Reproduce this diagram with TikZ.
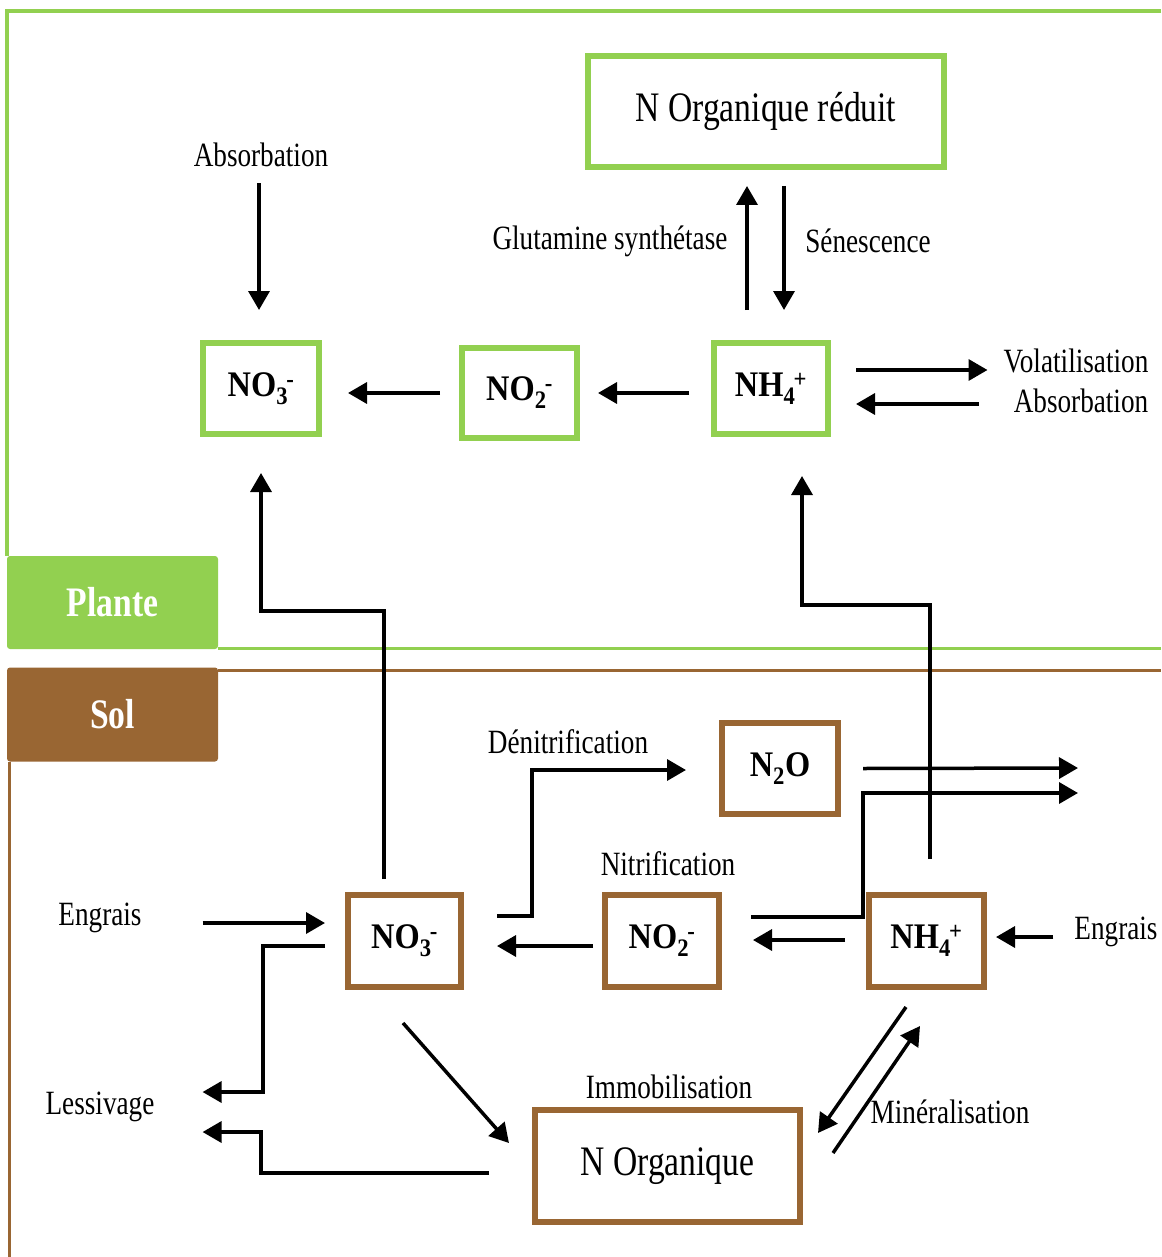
\documentclass[tikz,border=0pt]{standalone}
\usepackage{fontspec}
\setmainfont[FakeStretch=0.8]{Liberation Serif}
\newfontfamily\boxfont[FakeStretch=0.9]{Liberation Serif}
\usetikzlibrary{arrows.meta,calc}
\definecolor{vert}{HTML}{92D050}
\definecolor{brun}{HTML}{996633}
\newcommand\ionx[2]{\textsubscript{#1}\kern-0.05em\textsuperscript{#2}}
\tikzset{
  arr/.style={line width=3.5pt,-{Triangle[length=19pt,width=21pt]}},
  gbox/.style={draw=vert,line width=6pt,fill=white,inner sep=0pt,font=\fontsize{36}{40}\boxfont\bfseries},
  bbox/.style={draw=brun,line width=6pt,fill=white,inner sep=0pt,font=\fontsize{36}{40}\boxfont\bfseries},
  lab/.style={inner sep=0pt,font=\fontsize{34}{40}\selectfont},
  tag/.style={rounded corners=3pt,inner sep=0pt,text=white,font=\fontsize{42}{46}\selectfont\bfseries},
}
\begin{document}
\begin{tikzpicture}[x=1pt,y=-1pt]
\useasboundingbox (0,0) rectangle (1161,1257);
% frames
\draw[vert,line width=4pt] (1161,11) -- (7,11) -- (7,556);
\draw[vert,line width=3pt] (218,648) -- (1161,648);
\draw[brun,line width=3pt] (218,670) -- (1161,670);
\draw[brun,line width=3pt] (9,762) -- (9,1257);
\node[tag,fill=vert,minimum width=211,minimum height=93] (plante) at (112.5,602.5) {Plante};
\node[tag,fill=brun,minimum width=211,minimum height=94] (sol) at (112.5,714.5) {Sol};
% plant boxes
\node[gbox,minimum width=356,minimum height=111,font=\fontsize{42}{46}\selectfont] (norgr) at (766,111.5) {N Organique réduit};
\node[gbox,minimum width=116,minimum height=91] (n3t) at (261,388.5) {NO\ionx{3}{-}};
\node[gbox,minimum width=115,minimum height=90] (n2t) at (519.5,393) {NO\ionx{2}{-}};
\node[gbox,minimum width=114,minimum height=91] (n4t) at (771,388.5) {NH\ionx{4}{+}};
% soil boxes
\node[bbox,minimum width=116,minimum height=91] (n2o) at (780,768.5) {N\textsubscript{2}O};
\node[bbox,minimum width=113,minimum height=92] (n3b) at (404.5,941) {NO\ionx{3}{-}};
\node[bbox,minimum width=114,minimum height=92] (n2b) at (662,941) {NO\ionx{2}{-}};
\node[bbox,minimum width=115,minimum height=92] (n4b) at (926.5,941) {NH\ionx{4}{+}};
\node[bbox,minimum width=265,minimum height=112,font=\fontsize{42}{46}\selectfont] (norg) at (667.5,1166) {N Organique};
% labels
\node[lab] (abs1) at (261,155) {Absorbation};
\node[lab] (glu) at (610,241) {Glutamine synthétase};
\node[lab] (sen) at (868,241) {Sénescence};
\node[lab] (vol) at (1076,361) {Volatilisation};
\node[lab] (abs2) at (1081,401) {Absorbation};
\node[lab] (den) at (568,742) {Dénitrification};
\node[lab] (nit) at (668,864) {Nitrification};
\node[lab] (eng1) at (100,918) {Engrais};
\node[lab] (eng2) at (1116,932) {Engrais};
\node[lab] (less) at (100,1107) {Lessivage};
\node[lab] (imm) at (669,1087) {Immobilisation};
\node[lab] (min) at (950,1112) {Minéralisation};
\coordinate (out1) at (1078,768);
\coordinate (out2) at (1078,793);
% plant connectors
\draw[arr] ($(abs1.south)+(-2,16)$) -- ($(n3t.north)+(-2,-30)$);
\draw[arr] ($(n2t.west)+(-19,0)$) -- ($(n3t.east)+(26,4.5)$);
\draw[arr] ($(n4t.west)+(-22,4.5)$) -- ($(n2t.east)+(18,0)$);
\draw[arr] ($(n4t.north)+(-24,-30)$) -- ($(norgr.south)+(-19,16)$);
\draw[arr] ($(norgr.south)+(18,16)$) -- ($(n4t.north)+(13,-30)$);
\draw[arr] ($(n4t.east)+(25,-18.5)$) -- ($(vol.west)+(-16,9)$);
\draw[arr] ($(abs2.west)+(-35,3)$) -- ($(n4t.east)+(25,15.5)$);
% soil to plant
\draw[arr] ($(n3b.north)+(-20.5,-13)$) -- ++(0,-268) -| ($(n3t.south)+(0,36)$);
\draw[arr] ($(n4b.north)+(3.5,-33)$) -- ++(0,-254) -| ($(n4t.south)+(31,39)$);
% soil connectors
\draw[arr] ($(n3b.east)+(33,-25)$) -- ++(35,0) |- ($(n2o.west)+(-33,1.5)$);
\draw[arr] ($(n2o.east)+(22,0)$) -- (out1);
\draw[arr] ($(n2b.east)+(29,-24)$) -- ++(112,0) |- (out2);
\draw[arr] ($(n4b.west)+(-21,-1)$) -- ($(n2b.east)+(31,-1)$);
\draw[arr] ($(n2b.west)+(-9,5)$) -- ($(n3b.east)+(33,5)$);
\draw[arr] ($(eng1.east)+(61,5)$) -- ($(n3b.west)+(-20,-18)$);
\draw[arr] ($(eng2.west)+(-21,5)$) -- ($(n4b.east)+(9,-4)$);
\draw[arr] ($(n3b.west)+(-20,5)$) -- ++(-62,0) |- ($(less.east)+(48,-15)$);
\draw[arr] ($(norg.west)+(-43,7)$) -- ++(-228,0) |- ($(less.east)+(48,25)$);
\draw[arr] ($(n3b.south)+(-1.5,33)$) -- ($(norg.west)+(-23,-23)$);
\draw[arr] ($(n4b.south)+(-20.5,17)$) -- ($(norg.east)+(15,-33)$);
\draw[arr] ($(norg.east)+(30,-13)$) -- ($(n4b.south)+(-6.5,36)$);
\end{tikzpicture}
\end{document}
